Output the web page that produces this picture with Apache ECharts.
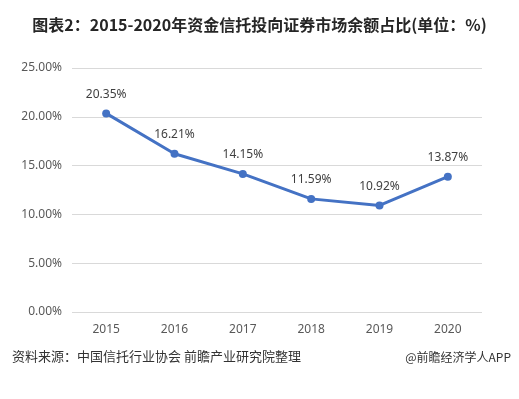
<!DOCTYPE html>
<html>
<head>
<meta charset="utf-8">
<script src="https://cdn.jsdelivr.net/npm/echarts@6/dist/echarts.min.js"></script>
<style>
  html, body { margin: 0; padding: 0; background: #fff; }
  #chart { width: 519px; height: 399px; }
</style>
</head>
<body>
<div id="chart"></div>
<script>
// 数据
const years = ["2015", "2016", "2017", "2018", "2019", "2020"];
const shares = [20.35, 16.21, 14.15, 11.59, 10.92, 13.87];

const chart = echarts.init(document.getElementById("chart"));

chart.setOption({
  backgroundColor: "#fff",
  animation: false,
  title: [
    {
      text: "图表2：2015-2020年资金信托投向证券市场余额占比(单位：%)",
      left: "center",
      top: 12,
      textStyle: {
        fontFamily: "Noto Sans CJK SC",
        fontSize: 16,
        fontWeight: "bold",
        color: "#262626",
      },
    },
    {
      text: "资料来源：中国信托行业协会 前瞻产业研究院整理",
      left: 7,
      top: 345,
      textStyle: {
        fontFamily: "Noto Sans CJK SC",
        fontSize: 13,
        fontWeight: "normal",
        color: "#333",
      },
    },
    {
      text: "@前瞻经济学人APP",
      right: 3,
      top: 346,
      textStyle: {
        fontFamily: "Noto Sans CJK SC",
        fontSize: 12,
        fontWeight: "normal",
        color: "#333",
      },
    },
  ],
  grid: {
    left: 72,
    right: 37,
    top: 68,
    bottom: 87,
  },
  xAxis: {
    type: "category",
    data: years,
    boundaryGap: true,
    axisLine: { show: false },
    axisTick: { show: false },
    axisLabel: {
      color: "#595959",
      fontSize: 12,
      margin: 12,
      fontFamily: "Noto Sans",
    },
  },
  yAxis: {
    type: "value",
    min: 0,
    max: 25,
    interval: 5,
    axisLine: { show: false },
    axisTick: { show: false },
    axisLabel: {
      color: "#595959",
      fontSize: 12,
      margin: 10,
      fontFamily: "Noto Sans",
      formatter: (v) => v.toFixed(2) + "%",
    },
    splitLine: { lineStyle: { color: "#d9d9d9", width: 1 } },
  },
  series: [
    {
      type: "line",
      data: shares,
      symbol: "circle",
      symbolSize: 8,
      lineStyle: { color: "#4472c4", width: 3 },
      itemStyle: { color: "#4472c4" },
      label: {
        show: true,
        position: "top",
        distance: 9,
        color: "#404040",
        fontSize: 12,
        fontFamily: "Noto Sans",
        formatter: (p) => p.value.toFixed(2) + "%",
      },
    },
  ],
});
</script>
</body>
</html>
